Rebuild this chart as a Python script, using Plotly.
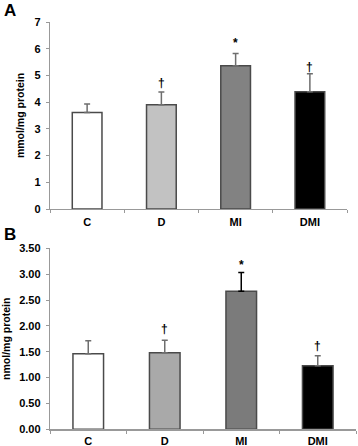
import plotly.graph_objects as go

W, H = 358, 446

categories = ["C", "D", "MI", "DMI"]

# Panel A
a_values = [3.61, 3.90, 5.36, 4.39]
a_errors = [0.32, 0.48, 0.46, 0.67]
a_marks = ["", "†", "*", "†"]
a_mark_y = [None, 4.70, 6.20, 5.30]

# Panel B
b_values = [1.46, 1.48, 2.67, 1.23]
b_errors = [0.25, 0.24, 0.36, 0.19]
b_marks = ["", "†", "*", "†"]
b_mark_y = [None, 1.94, 3.18, 1.61]

a_colors = ["#ffffff", "#c2c2c2", "#828282", "#000000"]
b_colors = ["#ffffff", "#a9a9a9", "#7b7b7b", "#000000"]
a_err_colors = ["#6e6e6e", "#6e6e6e", "#6e6e6e", "#6e6e6e"]
b_err_colors = ["#6e6e6e", "#6e6e6e", "#000000", "#6e6e6e"]

FONT = "Arial, Liberation Sans, sans-serif"

fig = go.Figure()

def add_panel(values, errors, colors, errc, xa, ya):
    for i, c in enumerate(categories):
        fig.add_trace(go.Bar(
            x=[c], y=[values[i]], width=0.4,
            marker=dict(color=colors[i], line=dict(color="#4a4a4a", width=1.5)),
            error_y=dict(type="data", symmetric=False, array=[errors[i]], arrayminus=[0],
                         color=errc[i], thickness=1.5, width=3),
            xaxis=xa, yaxis=ya, showlegend=False, hoverinfo="skip",
        ))

add_panel(a_values, a_errors, a_colors, a_err_colors, "x", "y")
add_panel(b_values, b_errors, b_colors, b_err_colors, "x2", "y2")

annotations = []
for i, c in enumerate(categories):
    if a_marks[i]:
        annotations.append(dict(x=c, y=a_mark_y[i], xref="x", yref="y", text=f"<b>{a_marks[i]}</b>",
                                showarrow=False, xanchor="center", yanchor="middle",
                                font=dict(size=12, family="Liberation Sans", color="#000000")))
    if b_marks[i]:
        annotations.append(dict(x=c, y=b_mark_y[i], xref="x2", yref="y2", text=f"<b>{b_marks[i]}</b>",
                                showarrow=False, xanchor="center", yanchor="middle",
                                font=dict(size=12, family="Liberation Sans", color="#000000")))

annotations.append(dict(x=10 / W, y=1 - 11 / H, xref="paper", yref="paper", text="<b>A</b>",
                        showarrow=False, xanchor="center", yanchor="middle",
                        font=dict(size=17, family=FONT, color="#000")))
annotations.append(dict(x=10 / W, y=1 - 235 / H, xref="paper", yref="paper", text="<b>B</b>",
                        showarrow=False, xanchor="center", yanchor="middle",
                        font=dict(size=17, family=FONT, color="#000")))

xaxis_common = dict(
    type="category", categoryorder="array", categoryarray=categories,
    showline=True, linecolor="#999999", linewidth=1.2,
    ticks="outside", tickson="boundaries", ticklen=3, tickcolor="#999999",
    showgrid=False, zeroline=False, automargin=False,
    tickfont=dict(size=11, family=FONT, color="#000"),
    range=[-0.5, 3.5],
)
yaxis_common = dict(
    showline=True, linecolor="#999999", linewidth=1.2,
    ticks="outside", ticklen=3, tickcolor="#999999",
    showgrid=False, zeroline=False, automargin=False,
    tickfont=dict(size=11, family=FONT, color="#000"),
    ticklabelstandoff=3,
)

fig.update_layout(
    template="none",
    width=W, height=H,
    margin=dict(l=0, r=0, t=0, b=0, pad=0),
    paper_bgcolor="white", plot_bgcolor="white",
    barmode="overlay",
    font=dict(family=FONT),
    xaxis=dict(domain=[50 / W, 347 / W], anchor="y", ticklabelstandoff=3,
               tickvals=categories, ticktext=["<b>" + c + "</b>" for c in categories], **xaxis_common),
    yaxis=dict(domain=[1 - 209 / H, 1 - 22 / H], anchor="x", range=[0, 7], dtick=1,
               tickformat="d", tickprefix="<b>", ticksuffix="</b>",
               title=dict(text="<b>mmol/mg protein</b>", font=dict(size=10.5, family=FONT, color="#000"), standoff=7),
               **yaxis_common),
    xaxis2=dict(domain=[50 / W, 356 / W], anchor="y2", ticklabelstandoff=1,
                tickvals=categories, ticktext=["<b>" + c + "</b>" for c in categories], **xaxis_common),
    yaxis2=dict(domain=[1 - 429.3 / H, 1 - 248.3 / H], anchor="x2", range=[0, 3.5], dtick=0.5,
                tickformat=".2f", tickprefix="<b>", ticksuffix="</b>",
                title=dict(text="<b>nmol/mg protein</b>", font=dict(size=10.5, family=FONT, color="#000"), standoff=7),
                **yaxis_common),
    annotations=annotations,
)

fig.write_html("out.html", config={"displayModeBar": False, "staticPlot": True},
               post_script="document.body.style.margin='0px';document.body.style.overflow='hidden';")
